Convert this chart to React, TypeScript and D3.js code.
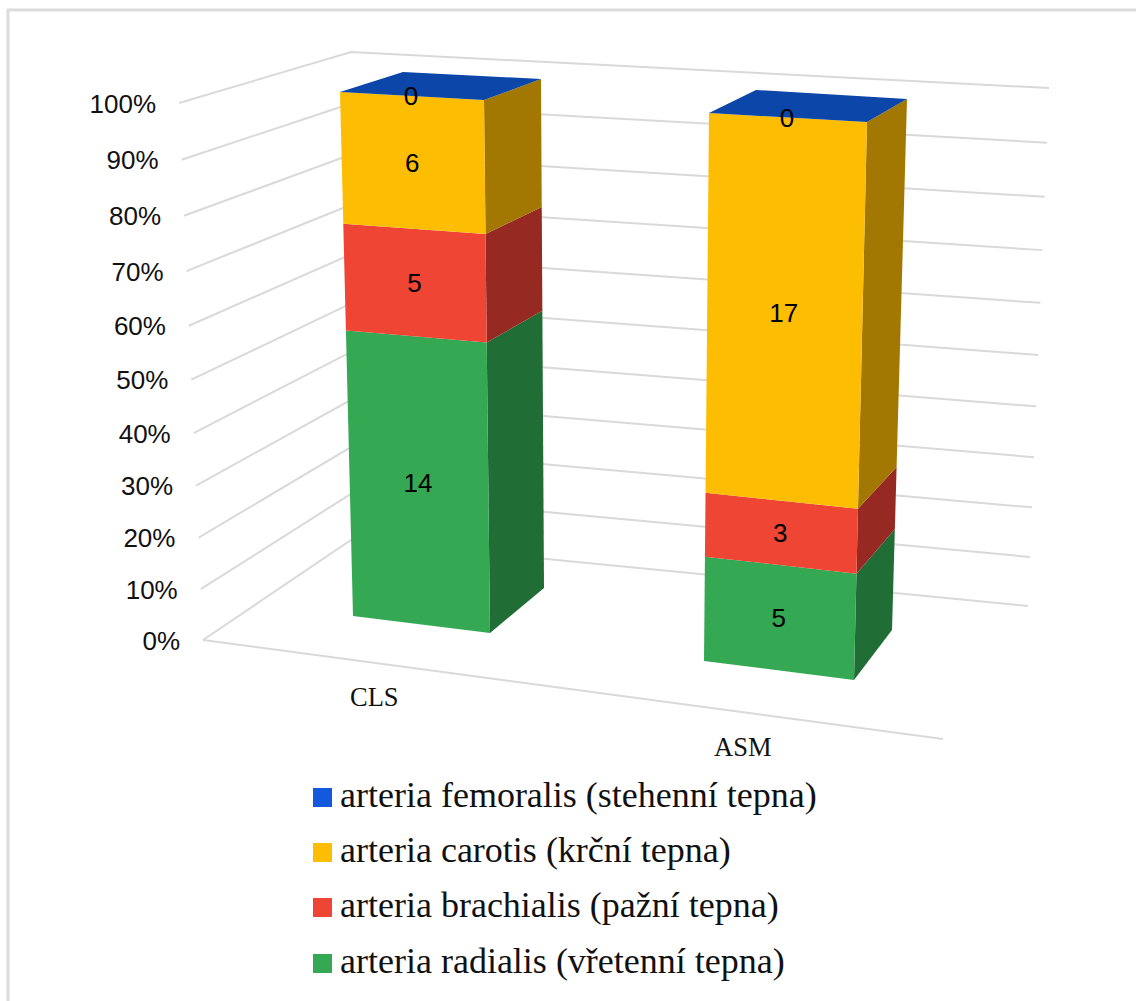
import React from "react";
import * as d3 from "d3";

// Chart data: counts per artery site for each clinic group
const categories = ["CLS", "ASM"];
const seriesNames = [
  "arteria radialis (vřetenní tepna)",
  "arteria brachialis (pažní tepna)",
  "arteria carotis (krční tepna)",
  "arteria femoralis (stehenní tepna)",
];
const radialis = [14, 5];
const brachialis = [5, 3];
const carotis = [6, 17];
const femoralis = [0, 0];
const seriesValues = [radialis, brachialis, carotis, femoralis];
const percentTicks = [0, 10, 20, 30, 40, 50, 60, 70, 80, 90, 100];

// Palette, in the order of seriesValues
const frontColors = ["#34A853", "#EE4535", "#FDBD03", "#0B46A8"];
const sideColors = ["#216D36", "#962A22", "#A37802", "#0B46A8"];
const legendColors = ["#34A853", "#EE4535", "#FDBD03", "#1259DD"];

type Pt = [number, number];
type Edge = { low: Pt; high: Pt };

// Perspective foreshortening of the value axis: the far (low) end shrinks slightly
const DEPTH_K = 1.063;
const share = d3.scaleLinear().domain([0, 100]).range([0, 1]);
const foreshorten = (pct: number) => {
  const t = share(pct);
  return t / (t + DEPTH_K * (1 - t));
};
const onEdge = (e: Edge, pct: number): Pt => {
  const s = foreshorten(pct);
  return [
    d3.scaleLinear().domain([0, 1]).range([e.low[0], e.high[0]])(s),
    d3.scaleLinear().domain([0, 1]).range([e.low[1], e.high[1]])(s),
  ];
};

// Projected box edges for the walls and the two columns
const wallLeft: Edge = { low: [203, 640], high: [179, 103] };
const wallCorner: Edge = { low: [351, 540], high: [351, 52] };
const wallRight: Edge = { low: [1028, 606], high: [1049, 88] };
const floorFront: [Pt, Pt] = [[203, 640], [943, 739]];

const columnEdges: { fl: Edge; fr: Edge; br: Edge; blTop: Pt }[] = [
  {
    fl: { low: [353, 616], high: [340, 92] },
    fr: { low: [490, 633], high: [484, 100] },
    br: { low: [544, 588], high: [541, 79] },
    blTop: [403, 72],
  },
  {
    fl: { low: [704, 661], high: [709, 113] },
    fr: { low: [854, 680], high: [867, 122] },
    br: { low: [892, 630], high: [907, 99] },
    blTop: [756, 90],
  },
];

const categoryLabelPos: Pt[] = [[350, 706], [714, 756]];
const poly = (pts: Pt[]) => pts.map((p) => p.join(",")).join(" ");
const sans = "'Liberation Sans', Arial, sans-serif";
const serif = "'Liberation Serif', 'Times New Roman', serif";
const gridColor = "#D9D9D9";

export default function App() {
  const stack = d3
    .stack<number[], number>()
    .keys(d3.range(seriesValues.length))
    .value((row, key) => row[key])
    .offset(d3.stackOffsetExpand)(categories.map((_, c) => seriesValues.map((s) => s[c])));

  const legendOrder = [3, 2, 1, 0];

  return (
    <svg
      width={1136}
      height={1001}
      style={{ position: "absolute", left: 0, top: 0, background: "#fff" }}
    >
      <rect x={8} y={10} width={1140} height={1010} fill="none" stroke="#DCDCDC" strokeWidth={3} />

      {/* Gridlines wrapping the side wall and back wall */}
      {percentTicks.map((p) => (
        <polyline
          key={p}
          points={poly([onEdge(wallLeft, p), onEdge(wallCorner, p), onEdge(wallRight, p)])}
          fill="none"
          stroke={gridColor}
          strokeWidth={2}
        />
      ))}
      <line
        x1={floorFront[0][0]}
        y1={floorFront[0][1]}
        x2={floorFront[1][0]}
        y2={floorFront[1][1]}
        stroke={gridColor}
        strokeWidth={2}
      />

      {percentTicks.map((p) => {
        const [x, y] = onEdge(wallLeft, p);
        return (
          <text
            key={p}
            x={x - 23}
            y={y + 9.5}
            textAnchor="end"
            fontFamily={sans}
            fontSize={26}
            fill="#111"
          >
            {p}%
          </text>
        );
      })}

      {/* Stacked columns: side and front faces bottom-up, then the lid */}
      {categories.map((cat, c) => {
        const e = columnEdges[c];
        const lidIndex = seriesValues.length - 1;
        const frTop = onEdge(e.fr, 100);
        const flTop = onEdge(e.fl, 100);
        const brTop = onEdge(e.br, 100);
        return (
          <g key={cat}>
            {stack.map((layer, i) => {
              const a = layer[c][0] * 100;
              const b = layer[c][1] * 100;
              if (b - a <= 0) return null;
              return (
                <g key={i}>
                  <polygon
                    points={poly([onEdge(e.fr, a), onEdge(e.br, a), onEdge(e.br, b), onEdge(e.fr, b)])}
                    fill={sideColors[i]}
                  />
                  <polygon
                    points={poly([onEdge(e.fl, a), onEdge(e.fr, a), onEdge(e.fr, b), onEdge(e.fl, b)])}
                    fill={frontColors[i]}
                  />
                </g>
              );
            })}
            <polygon points={poly([flTop, frTop, brTop, e.blTop])} fill={frontColors[lidIndex]} />
            {stack.map((layer, i) => {
              const mid = ((layer[c][0] + layer[c][1]) / 2) * 100;
              const l = onEdge(e.fl, mid);
              const r = onEdge(e.fr, mid);
              return (
                <text
                  key={i}
                  x={(l[0] + r[0]) / 2 - 1}
                  y={(l[1] + r[1]) / 2 + 9}
                  textAnchor="middle"
                  fontFamily={sans}
                  fontSize={26}
                  fill="#000"
                >
                  {seriesValues[i][c]}
                </text>
              );
            })}
            <text
              x={categoryLabelPos[c][0]}
              y={categoryLabelPos[c][1]}
              fontFamily={serif}
              fontSize={26.5}
              fill="#111"
            >
              {cat}
            </text>
          </g>
        );
      })}

      {/* Legend, top series first */}
      {legendOrder.map((s, row) => {
        const baseline = [807, 862, 917, 973][row];
        return (
          <g key={s}>
            <rect x={313} y={baseline - 19} width={19} height={19} fill={legendColors[s]} />
            <text x={340} y={baseline} fontFamily={serif} fontSize={36} fill="#111">
              {seriesNames[s]}
            </text>
          </g>
        );
      })}
    </svg>
  );
}
